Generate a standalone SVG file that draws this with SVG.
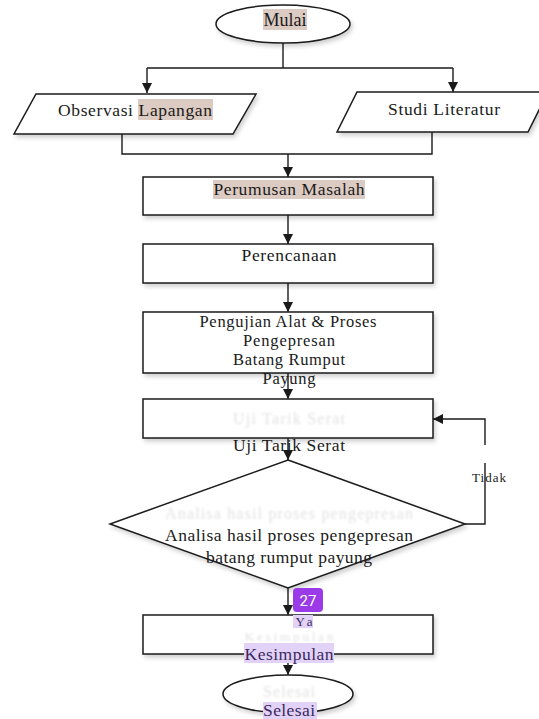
<svg xmlns="http://www.w3.org/2000/svg" width="539" height="719" viewBox="0 0 539 719">
<style>
.shape{fill:#fff;stroke:#1a1a1a;stroke-width:1.5;filter:url(#sh)}
.ln{fill:none;stroke:#1a1a1a;stroke-width:1.4}
.arr{marker-end:url(#ah)}
.t{font-family:"Liberation Serif","Times New Roman",serif;font-size:17.5px;fill:#1a1a1a;text-anchor:middle}
.s{font-size:16.5px}
.g{font-family:"Liberation Serif","Times New Roman",serif;font-size:16px;fill:#e2e2e2;text-anchor:middle;filter:url(#bl)}
.hb{fill:#dccbc2}
.hp{fill:#e3d2f8}
.tp{fill:#3a2a5c}
</style>
<defs>
<marker id="ah" viewBox="0 0 10 10" refX="10" refY="5" markerWidth="10" markerHeight="10" markerUnits="userSpaceOnUse" orient="auto">
<path d="M0,0 L10,5 L0,10 Z" fill="#1a1a1a"/>
</marker>
<filter id="sh" x="-10%" y="-20%" width="130%" height="150%">
<feDropShadow dx="2" dy="3" stdDeviation="2" flood-color="#000" flood-opacity="0.18"/>
</filter>
<filter id="bl" x="-10%" y="-50%" width="120%" height="200%">
<feGaussianBlur stdDeviation="1"/>
</filter>
</defs>

<g id="connectors">
<path class="ln" d="M283,43 V68"/>
<path class="ln" d="M147,68 H453"/>
<path class="ln arr" d="M147,68 V93"/>
<path class="ln arr" d="M453,68 V92"/>
<path class="ln" d="M122,134 V154 H432 V132"/>
<path class="ln arr" d="M288,154 V177"/>
<path class="ln arr" d="M288,215 V244"/>
<path class="ln arr" d="M288,283 V312"/>
<path class="ln arr" d="M288,373 V399"/>
<path class="ln arr" d="M288,438 V460"/>
<path class="ln" d="M465,524 H485 V463"/>
<path class="ln arr" d="M485,445 V419 H433"/>
<path class="ln arr" d="M288,588 V615"/>
<path class="ln arr" d="M288,654 V675"/>
</g>

<g id="mulai">
<ellipse class="shape" cx="283" cy="24" rx="67" ry="19"/>
<rect class="hb" x="263" y="9" width="44" height="21"/>
<text class="t" x="285" y="26" style="font-size:18px" textLength="43">Mulai</text>
</g>

<g id="observasi">
<polygon class="shape" points="36,94 256,94 233,134 14,134"/>
<rect class="hb" x="138" y="99" width="75" height="21"/>
<text class="t" x="135" y="116" textLength="154">Observasi Lapangan</text>
</g>

<g id="studi">
<polygon class="shape" points="357,92 548,92 528,132 337,132"/>
<text class="t" x="444" y="115" textLength="112">Studi Literatur</text>
</g>

<g id="perumusan">
<rect class="shape" x="143" y="177" width="290" height="38"/>
<rect class="hb" x="213" y="180" width="152" height="19"/>
<text class="t" x="289" y="195" textLength="151">Perumusan Masalah</text>
</g>

<g id="perencanaan">
<rect class="shape" x="143" y="244" width="290" height="39"/>
<text class="t" x="289" y="261" textLength="95">Perencanaan</text>
</g>

<g id="pengujian">
<rect class="shape" x="143" y="312" width="290" height="61"/>
<text class="t s" x="288" y="327" textLength="177">Pengujian Alat &amp; Proses</text>
<text class="t s" x="289" y="346" textLength="92">Pengepresan</text>
<text class="t s" x="289" y="365" textLength="112">Batang Rumput</text>
<text class="t s" x="289" y="384" textLength="53">Payung</text>
</g>

<g id="uji">
<rect class="shape" x="143" y="399" width="290" height="39"/>
<text class="g" x="289" y="424" textLength="112">Uji Tarik Serat</text>
<text class="t" x="289" y="451" textLength="112">Uji Tarik Serat</text>
</g>

<g id="analisa">
<polygon class="shape" points="288,460 465,524 288,588 110,524"/>
<text class="g" x="289" y="519" textLength="248">Analisa hasil proses pengepresan</text>
<text class="t" x="289" y="541" textLength="248">Analisa hasil proses pengepresan</text>
<text class="t" x="289" y="563" textLength="166">batang rumput payung</text>
</g>

<g id="tidak">
<text class="t" x="489" y="482" style="font-size:13px" textLength="34">Tidak</text>
</g>

<g id="kesimpulan">
<rect class="shape" x="143" y="615" width="290" height="39"/>
<text class="g" x="289" y="641" style="font-size:13.5px" textLength="89">Kesimpulan</text>
<rect class="hp" x="293" y="615" width="20" height="13"/>
<text class="t tp" x="304" y="625.5" style="font-size:13px" textLength="17">Ya</text>
<rect class="hp" x="244" y="643" width="90" height="20"/>
<text class="t tp" x="289" y="660" textLength="89">Kesimpulan</text>
</g>

<g id="selesai">
<ellipse class="shape" cx="288" cy="694" rx="65" ry="19"/>
<text class="g" x="289" y="697" textLength="52">Selesai</text>
<rect class="hp" x="263" y="702" width="54" height="17"/>
<text class="t tp" x="289" y="716" textLength="52">Selesai</text>
</g>

<g id="badge">
<rect x="293" y="588" width="30" height="24" rx="4" fill="#9b3be8"/>
<text x="308" y="606" font-family="Roboto,'Liberation Sans',sans-serif" font-size="15" fill="#fff" text-anchor="middle">27</text>
</g>
</svg>
